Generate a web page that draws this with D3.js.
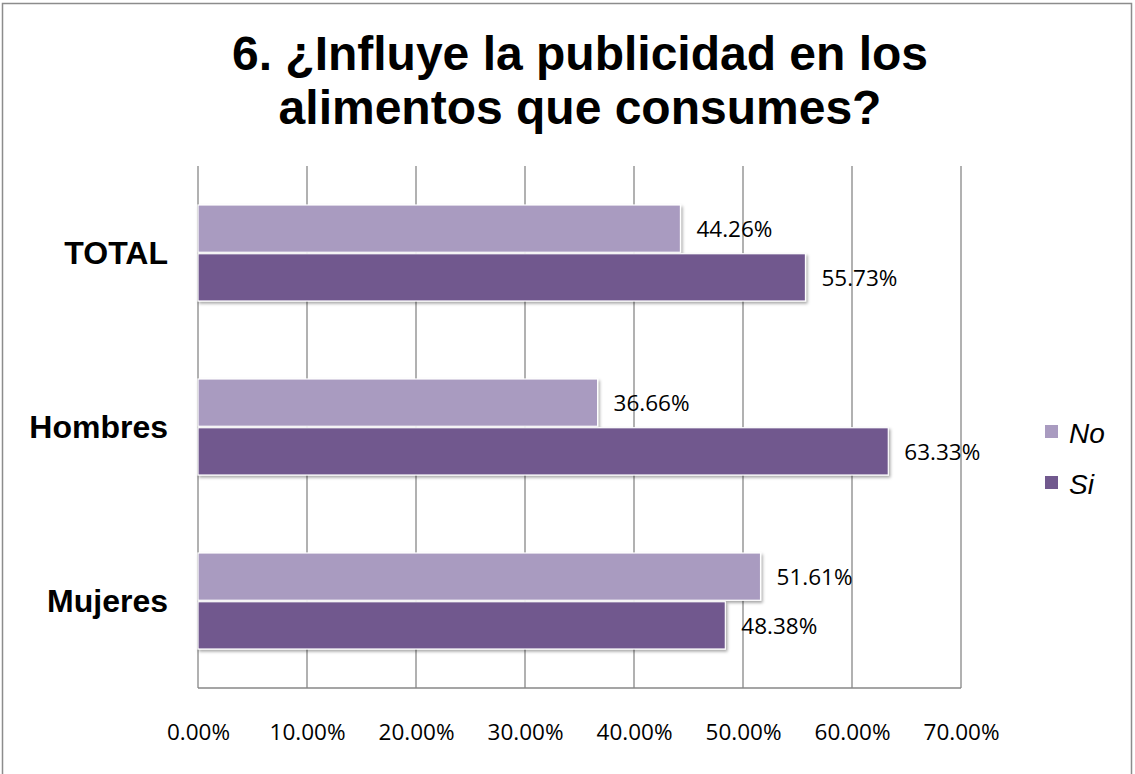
<!DOCTYPE html>
<html>
<head>
<meta charset="utf-8">
<script src="https://cdn.jsdelivr.net/npm/d3@7"></script>
<style>
  html, body { margin: 0; padding: 0; background: #fff; }
  svg { display: block; }
</style>
</head>
<body>
<svg id="chart" width="1135" height="774"></svg>
<script>
// Survey answers by group, in percent
const categories = ["TOTAL", "Hombres", "Mujeres"];
const seriesNames = ["No", "Si"];
const noValues = [44.26, 36.66, 51.61];
const siValues = [55.73, 63.33, 48.38];
const tickValues = [0, 10, 20, 30, 40, 50, 60, 70];
const titleLines = ["6. ¿Influye la publicidad en los", "alimentos que consumes?"];

const colors = { No: "#A99BC0", Si: "#71598E" };

const svg = d3.select("#chart");
const W = 1135, H = 774;
const plot = { left: 198, right: 961, top: 166, bottom: 688 };

// outer frame
svg.append("rect").attr("x", 2.5).attr("y", 3.5).attr("width", 1129).attr("height", H + 10)
  .attr("fill", "#fff").attr("stroke", "#8c8c8c").attr("stroke-width", 1.5);

const defs = svg.append("defs");
const f = defs.append("filter").attr("id", "shadow").attr("x", "-5%").attr("y", "-20%").attr("width", "115%").attr("height", "150%");
f.append("feDropShadow").attr("dx", 1.5).attr("dy", 2).attr("stdDeviation", 1.6).attr("flood-color", "#000").attr("flood-opacity", 0.35);

// title
svg.append("g").selectAll("text").data(titleLines).join("text")
  .attr("x", 580).attr("y", (d, i) => 70 + i * 54)
  .attr("text-anchor", "middle")
  .attr("font-family", "Liberation Sans, Arial, sans-serif")
  .attr("font-weight", "bold").attr("font-size", 48)
  .attr("fill", "#000")
  .text(d => d);

const x = d3.scaleLinear().domain([0, 70]).range([plot.left, plot.right]);
const y = d3.scaleBand().domain(categories).range([plot.top, plot.bottom]);
const ySub = d3.scaleBand().domain(seriesNames).range([0, y.bandwidth()]).paddingOuter(0.8).paddingInner(0.03);

// gridlines
svg.append("g").selectAll("line").data(tickValues).join("line")
  .attr("x1", d => x(d)).attr("x2", d => x(d))
  .attr("y1", plot.top).attr("y2", plot.bottom)
  .attr("stroke", "#878787").attr("stroke-width", 1.3);

// bottom axis line
svg.append("line").attr("x1", x(0)).attr("x2", x(70)).attr("y1", plot.bottom).attr("y2", plot.bottom)
  .attr("stroke", "#878787").attr("stroke-width", 1.5);

// tick labels via d3 axis
const axis = d3.axisBottom(x).tickValues(tickValues).tickSize(0).tickPadding(0)
  .tickFormat(d => d.toFixed(2) + "%");
const ax = svg.append("g").attr("transform", "translate(0,740)").call(axis);
ax.select(".domain").remove();
ax.selectAll("text").attr("font-family", "Open Sans, sans-serif").attr("font-size", 22.5)
  .attr("fill", "#000").attr("dy", 0);

// bars
const rows = [];
categories.forEach((c, i) => {
  rows.push({ cat: c, s: "No", v: noValues[i] });
  rows.push({ cat: c, s: "Si", v: siValues[i] });
});

const g = svg.append("g");
g.selectAll("rect").data(rows).join("rect")
  .attr("x", x(0))
  .attr("y", d => y(d.cat) + ySub(d.s))
  .attr("width", d => x(d.v) - x(0))
  .attr("height", ySub.bandwidth())
  .attr("fill", d => colors[d.s])
  .attr("stroke", "#fff").attr("stroke-width", 1.2)
  .attr("filter", "url(#shadow)");

// value labels
g.selectAll("text").data(rows).join("text")
  .attr("x", d => x(d.v) + 16)
  .attr("y", d => y(d.cat) + ySub(d.s) + ySub.bandwidth() / 2 + 8.5)
  .attr("font-family", "Open Sans, sans-serif").attr("font-size", 22.5)
  .attr("fill", "#000")
  .text(d => d.v.toFixed(2) + "%");

// category labels
svg.append("g").selectAll("text").data(categories).join("text")
  .attr("x", 168).attr("y", d => y(d) + y.bandwidth() / 2 + 11)
  .attr("text-anchor", "end")
  .attr("font-family", "Liberation Sans, Arial, sans-serif")
  .attr("font-weight", "bold").attr("font-size", 32)
  .attr("fill", "#000")
  .text(d => d);

// legend
const lg = svg.append("g").selectAll("g").data(seriesNames).join("g")
  .attr("transform", (d, i) => `translate(1045, ${425 + i * 51})`);
lg.append("rect").attr("x", 0).attr("y", 0).attr("width", 13).attr("height", 13)
  .attr("fill", d => colors[d]);
lg.append("text").attr("x", 24).attr("y", 18)
  .attr("font-family", "Liberation Sans, Arial, sans-serif")
  .attr("font-style", "italic").attr("font-size", 28)
  .attr("fill", "#000")
  .text(d => d);
</script>
</body>
</html>
